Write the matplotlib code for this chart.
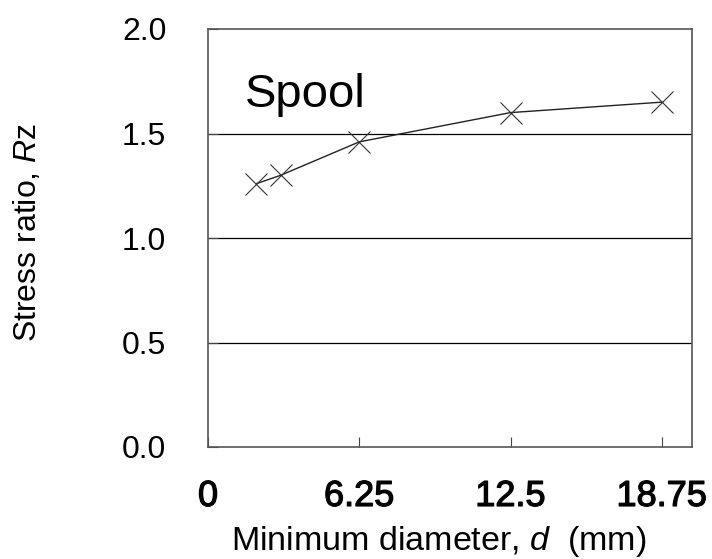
import matplotlib
matplotlib.use("Agg")
import matplotlib.pyplot as plt
import matplotlib.patheffects as pe

# Data
diameter_mm = [2.0, 3.0, 6.25, 12.5, 18.75]
stress_ratio = [1.26, 1.30, 1.46, 1.60, 1.65]
x_ticks = [0, 6.25, 12.5, 18.75]
x_tick_labels = ["0", "6.25", "12.5", "18.75"]
y_ticks = [0.0, 0.5, 1.0, 1.5, 2.0]
y_tick_labels = ["0.0", "0.5", "1.0", "1.5", "2.0"]

plt.rcParams['font.family'] = ['Liberation Sans', 'DejaVu Sans']
plt.rcParams['mathtext.fontset'] = 'custom'
plt.rcParams['mathtext.rm'] = 'Liberation Sans'
plt.rcParams['mathtext.it'] = 'Liberation Sans:italic'

fig = plt.figure(figsize=(7.12, 5.59), dpi=100)
ax = fig.add_axes([208/712, 1 - 447/559, 484/712, 418/559])

ax.set_xlim(0, 20)
ax.set_ylim(0, 2.0)

for g in [0.5, 1.0, 1.5]:
    ax.axhline(g, color='black', lw=0.9, zorder=1)

ax.plot(diameter_mm, stress_ratio, color='#222222', lw=1.0, zorder=2)
ax.plot(diameter_mm, stress_ratio, linestyle='none', marker='x', ms=16,
        mew=0.8, color='#333333', zorder=3)

ax.set_xticks(x_ticks)
ax.set_xticklabels(x_tick_labels, fontsize=26)
for lbl in ax.get_xticklabels():
    lbl.set_path_effects([pe.withStroke(linewidth=0.9, foreground='black')])
ax.set_yticks(y_ticks)
ax.set_yticklabels(y_tick_labels, fontsize=23)
ax.tick_params(axis='x', direction='in', length=7, width=0.8, color='#444444', pad=23)
ax.tick_params(axis='y', direction='in', length=7, width=0.8, color='#444444', pad=30)

for s in ax.spines.values():
    s.set_color('#555555')
    s.set_linewidth(1.2)

ax.text(1.53, 1.627, "Spool", fontsize=34, ha='left', va='baseline')

ax.set_xlabel("Minimum diameter, $d$  (mm)", fontsize=24.5)
ax.xaxis.set_label_coords(0.477, -0.185)
ax.xaxis.label.set_va('top')
ax.set_ylabel("Stress ratio, $R$z", fontsize=23)
ax.yaxis.set_label_coords(-0.341, 0.514)

fig.savefig("out.png", dpi=100)
